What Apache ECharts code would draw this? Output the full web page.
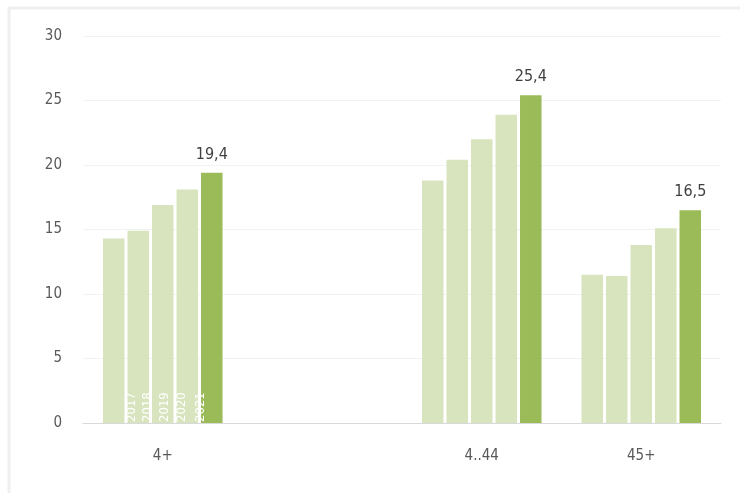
<!DOCTYPE html>
<html><head><meta charset="utf-8">
<script src="https://cdn.jsdelivr.net/npm/echarts@6/dist/echarts.min.js"></script>
<style>html,body{margin:0;padding:0;background:#fff}#c{width:740px;height:493px}</style>
</head><body><div id="c"></div>
<script>
const categories = ['4+', '', '4..44', '45+'];
const years = ['2017', '2018', '2019', '2020', '2021'];
const v2017 = [14.3, null, 18.8, 11.5];
const v2018 = [14.9, null, 20.4, 11.4];
const v2019 = [16.9, null, 22.0, 13.8];
const v2020 = [18.1, null, 23.9, 15.1];
const v2021 = [19.4, null, 25.4, 16.5];
const yTicks = [0, 5, 10, 15, 20, 25, 30];

const values = [v2017, v2018, v2019, v2020, v2021];
const FONT = '"Liberation Sans Narrow","DejaVu Sans Condensed","Liberation Sans",sans-serif';
const yearOffsets = [18, 9, 2, -6, -11];
const BW = 21.5;

const series = [];
years.forEach((y, i) => {
  const isLast = i === years.length - 1;
  series.push({
    name: y, type: 'bar', xAxisIndex: 0,
    barWidth: BW, barGap: '14%',
    itemStyle: { color: isLast ? '#9bbb59' : '#d7e4bd' },
    label: isLast ? {
      show: true, position: 'top', distance: 10,
      formatter: (p) => p.value == null ? '' : String(p.value).replace('.', ','),
      color: '#404040', fontSize: 16, fontFamily: FONT
    } : { show: false },
    data: values[i]
  });
});
years.forEach((y, i) => {
  series.push({
    name: y + ' label', type: 'bar', xAxisIndex: 1, silent: true, z: 5,
    barWidth: BW, barGap: '14%',
    itemStyle: { color: 'rgba(0,0,0,0)' },
    data: values[i].map((v, j) => j === 0 ? {
      value: v,
      label: {
        show: true, position: 'insideBottom', rotate: 90,
        align: 'left', verticalAlign: 'middle', distance: 1,
        offset: [0, yearOffsets[i]],
        formatter: y, color: '#ffffff', fontSize: 13, fontFamily: FONT
      }
    } : null)
  });
});

const chart = echarts.init(document.getElementById('c'), null, { renderer: 'canvas' });
chart.setOption({
  animation: false,
  graphic: [{
    type: 'rect', silent: true, z: -10,
    shape: { x: 9, y: 8, width: 900, height: 700 },
    style: { fill: 'none', stroke: '#efefef', lineWidth: 3 }
  }],
  grid: { left: 83, right: 19, top: 36, bottom: 70, containLabel: false },
  xAxis: [{
    type: 'category', data: categories,
    axisLine: { lineStyle: { color: '#d9d9d9', width: 1 } },
    axisTick: { show: false },
    axisLabel: { color: '#595959', fontSize: 15, fontFamily: FONT, margin: 26 }
  }, {
    type: 'category', data: categories, position: 'bottom', show: false
  }],
  yAxis: {
    type: 'value', min: yTicks[0], max: yTicks[yTicks.length - 1], interval: 5,
    axisLine: { show: false }, axisTick: { show: false },
    splitLine: { lineStyle: { color: '#f2f2f2' } },
    axisLabel: { color: '#595959', fontSize: 15, fontFamily: FONT, margin: 21 }
  },
  series: series
});
</script></body></html>
